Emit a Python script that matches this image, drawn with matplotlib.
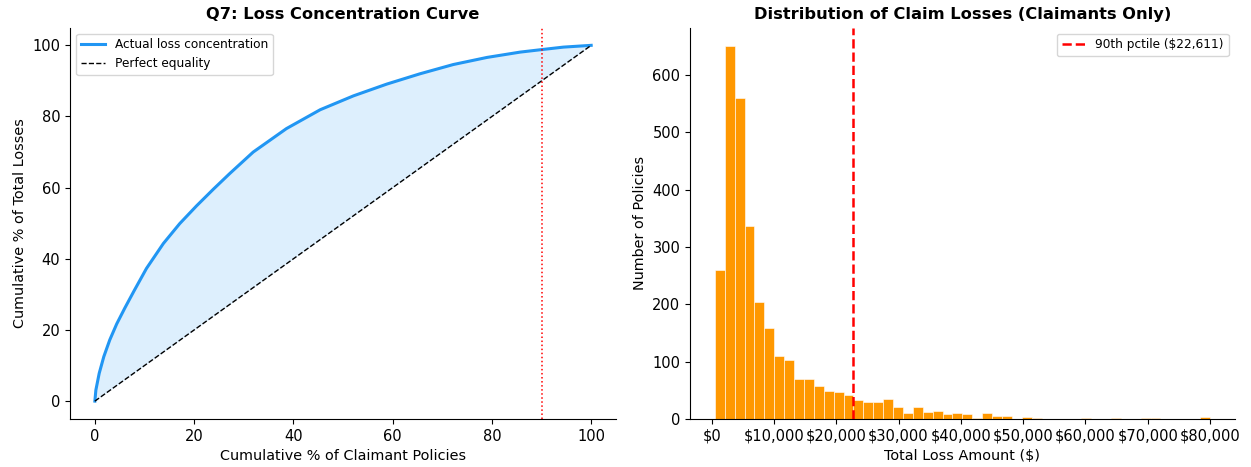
import numpy as np
import matplotlib
matplotlib.use("Agg")
import matplotlib.pyplot as plt
from matplotlib.ticker import FuncFormatter

# ---- Left panel: loss concentration (Lorenz-style) curve ----
cum_policies = [0, 0.2, 0.87, 1.8, 3.0, 4.4, 6.05, 7.9, 10.4, 13.8, 17.1, 20.5,
                23.9, 27.2, 31.9, 38.6, 45.4, 52.1, 58.8, 65.5, 72.2, 79.0,
                85.7, 90.0, 94.4, 100]
cum_losses = [0, 3.1, 7.8, 12.5, 17.2, 21.7, 26.2, 31.0, 37.3, 44.3, 49.9, 54.9,
              59.6, 64.0, 70.0, 76.6, 81.9, 85.8, 89.1, 92.0, 94.6, 96.6,
              98.1, 98.8, 99.5, 100]
equality = [0, 100]
pct_marker = 90

# ---- Right panel: histogram of claim losses ----
bin_lo, bin_hi, n_bins = 500, 80000, 50
counts = [260, 650, 560, 336, 203, 159, 109, 103, 70, 70,
          58, 49, 47, 42, 33, 30, 30, 34, 21, 11,
          20, 12, 14, 8, 10, 9, 2, 10, 5, 5,
          0, 3, 2, 0, 0, 0, 0, 2, 0, 0,
          2, 0, 0, 2, 2, 0, 0, 0, 0, 3]
p90 = 22611

fig = plt.figure(figsize=(12.51, 4.67), dpi=100)
ax1 = fig.add_axes([0.056, 0.103, 0.4364, 0.838])
ax2 = fig.add_axes([0.5516, 0.103, 0.4354, 0.838])

blue = "#2196F3"
ax1.plot(cum_policies, cum_losses, color=blue, lw=2.2, solid_joinstyle="round",
         label="Actual loss concentration")
ax1.plot(equality, equality, "k--", lw=1, label="Perfect equality")
ax1.fill_between(cum_policies, cum_losses, cum_policies, color=blue, alpha=0.15, lw=0)
ax1.axvline(pct_marker, color="red", ls=":", lw=1.1)
ax1.set_xlim(-5, 105)
ax1.set_ylim(-5, 105)
ax1.set_title("Q7: Loss Concentration Curve", fontsize=11.7, fontweight="bold")
ax1.set_xlabel("Cumulative % of Claimant Policies", fontsize=10.4)
ax1.set_ylabel("Cumulative % of Total Losses", fontsize=10.4)
ax1.legend(loc="upper left", fontsize=8.7)

edges = np.linspace(bin_lo, bin_hi, n_bins + 1)
centers = (edges[:-1] + edges[1:]) / 2
ax2.hist(centers, bins=edges, weights=counts, color="#FF9800", edgecolor="white", linewidth=0.4)
ax2.axvline(p90, color="red", ls="--", lw=1.8, label=f"90th pctile (${p90:,})")
ax2.set_title("Distribution of Claim Losses (Claimants Only)", fontsize=11.7, fontweight="bold")
ax2.set_xlabel("Total Loss Amount ($)", fontsize=10.4)
ax2.set_ylabel("Number of Policies", fontsize=10.4)
ax2.xaxis.set_major_formatter(FuncFormatter(lambda v, p: f"${v:,.0f}"))
ax2.set_xticks(np.arange(0, 80001, 10000))
ax2.legend(loc="upper right", fontsize=8.7)

for ax in (ax1, ax2):
    ax.spines["top"].set_visible(False)
    ax.spines["right"].set_visible(False)
    ax.tick_params(labelsize=10.5)

fig.savefig("out.png", dpi=100)
